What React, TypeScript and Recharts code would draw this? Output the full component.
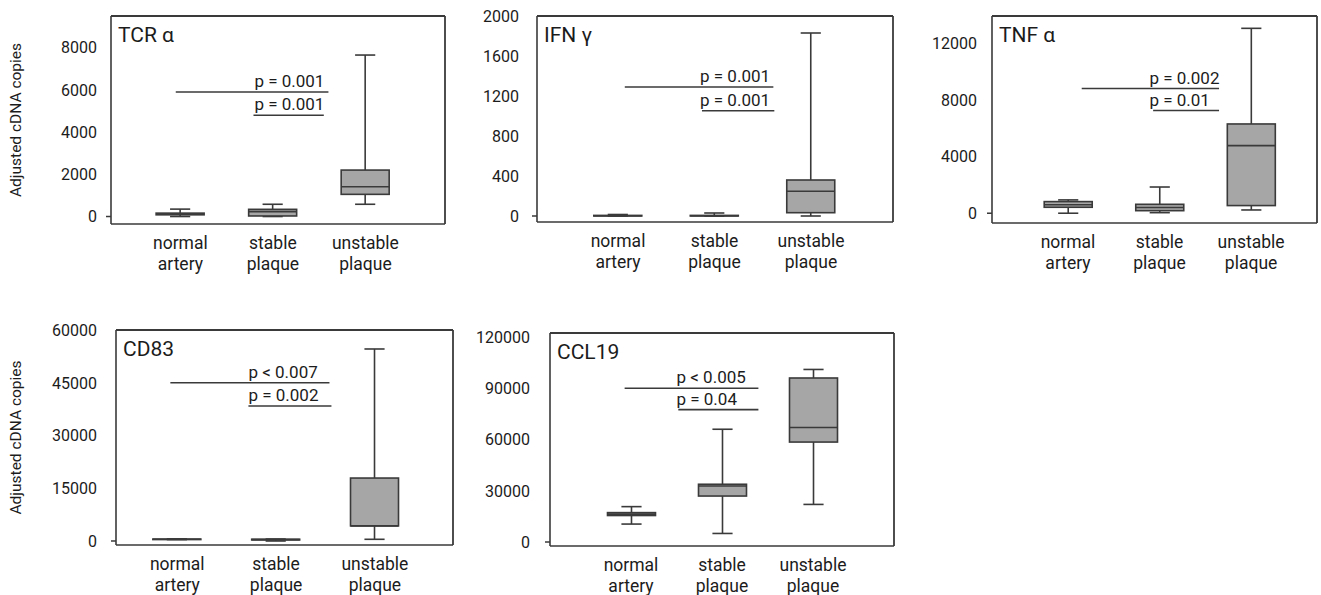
import React from 'react';
import { ComposedChart, Bar, XAxis, YAxis, ReferenceLine, ReferenceDot, Customized } from 'recharts';

const categories = ['normal artery', 'stable plaque', 'unstable plaque'];
const categoryPos = [1, 2, 3];

// five-number summaries per category: [min, q1, median, q3, max]
const tcrBoxes = [
  [0, 80, 120, 160, 350],
  [0, 25, 230, 340, 580],
  [580, 1050, 1410, 2200, 7650],
];
const ifnBoxes = [
  [0, 0, 3, 6, 15],
  [0, 0, 3, 6, 30],
  [0, 33, 247, 360, 1830],
];
const tnfBoxes = [
  [0, 420, 600, 820, 940],
  [40, 180, 400, 630, 1850],
  [230, 540, 4770, 6300, 13050],
];
const cd83Boxes = [
  [400, 450, 500, 550, 600],
  [0, 300, 400, 500, 550],
  [480, 4300, 4300, 17900, 54600],
];
const ccl19Boxes = [
  [10500, 15500, 16300, 17200, 20700],
  [5000, 26900, 32800, 33800, 66000],
  [22000, 58500, 67000, 96000, 101000],
];

const tcrTicks = [0, 2000, 4000, 6000, 8000];
const ifnTicks = [0, 400, 800, 1200, 1600, 2000];
const tnfTicks = [0, 4000, 8000, 12000];
const cd83Ticks = [0, 15000, 30000, 45000, 60000];
const ccl19Ticks = [0, 30000, 60000, 90000, 120000];

// significance bars: from/to on the category scale, y in copies
const tcrSig = [
  { label: 'p = 0.001', from: 0.95, to: 2.6, y: 5900, textX: 1.8 },
  { label: 'p = 0.001', from: 1.79, to: 2.55, y: 4800, textX: 1.8 },
];
const ifnSig = [
  { label: 'p = 0.001', from: 1.07, to: 2.61, y: 1290, textX: 1.85 },
  { label: 'p = 0.001', from: 1.87, to: 2.62, y: 1053, textX: 1.85 },
];
const tnfSig = [
  { label: 'p = 0.002', from: 1.15, to: 2.65, y: 8800, textX: 1.89 },
  { label: 'p = 0.01', from: 1.93, to: 2.65, y: 7250, textX: 1.89 },
];
const cd83Sig = [
  { label: 'p < 0.007', from: 0.93, to: 2.54, y: 45000, textX: 1.72 },
  { label: 'p = 0.002', from: 1.72, to: 2.56, y: 38400, textX: 1.72 },
];
const ccl19Sig = [
  { label: 'p < 0.005', from: 0.93, to: 2.4, y: 90000, textX: 1.5 },
  { label: 'p = 0.04', from: 1.52, to: 2.4, y: 77500, textX: 1.5 },
];

const FONT = 'Roboto, sans-serif';
const INK = '#1c1c1c';
const LINE = '#3a3a3a';
const FILL = '#a6a6a6';
const TOP_PAD = 12;
const X_AXIS_H = 60;
const BOX_W = 48;

type Sig = { label: string; from: number; to: number; y: number; textX: number };
type Panel = {
  title: string;
  boxes: number[][];
  ticks: number[];
  sig: Sig[];
  yDomain: [number, number];
  xDomain: [number, number];
  frame: { l: number; r: number; t: number; b: number };
  yLabel: boolean;
  tickGap: number;
};

const panels: Panel[] = [
  { title: 'TCR α', boxes: tcrBoxes, ticks: tcrTicks, sig: tcrSig, yDomain: [-355, 9500], xDomain: [0.25, 3.86], frame: { l: 111, r: 445, t: 16, b: 224 }, yLabel: true, tickGap: 14 },
  { title: 'IFN γ', boxes: ifnBoxes, ticks: ifnTicks, sig: ifnSig, yDomain: [-60, 2000], xDomain: [0.16, 3.85], frame: { l: 537, r: 893, t: 16, b: 222 }, yLabel: false, tickGap: 18 },
  { title: 'TNF α', boxes: tnfBoxes, ticks: tnfTicks, sig: tnfSig, yDomain: [-690, 13920], xDomain: [0.17, 3.72], frame: { l: 992, r: 1317, t: 16, b: 223 }, yLabel: false, tickGap: 15 },
  { title: 'CD83', boxes: cd83Boxes, ticks: cd83Ticks, sig: cd83Sig, yDomain: [-1140, 60000], xDomain: [0.38, 3.79], frame: { l: 116, r: 453, t: 330, b: 545 }, yLabel: true, tickGap: 19 },
  { title: 'CCL19', boxes: ccl19Boxes, ticks: ccl19Ticks, sig: ccl19Sig, yDomain: [-2340, 122340], xDomain: [0.11, 3.89], frame: { l: 550, r: 894, t: 333, b: 546 }, yLabel: false, tickGap: 20 },
];

const BoxShape = (props: any) => {
  const { x, y, width, height, payload } = props;
  const [mn, q1, med, q3, mx] = payload.stats;
  const top = Math.min(y, y + height);
  const bottom = Math.max(y, y + height);
  const k = (bottom - top) / (mx - mn);
  const py = (v: number) => bottom - (v - mn) * k;
  const cx = x + width / 2;
  const cap = width * 0.42;
  return (
    <g stroke={LINE} strokeWidth={1.6}>
      <line x1={cx} x2={cx} y1={py(mx)} y2={py(q3)} />
      <line x1={cx} x2={cx} y1={py(q1)} y2={py(mn)} />
      <line x1={cx - cap / 2} x2={cx + cap / 2} y1={py(mx)} y2={py(mx)} />
      <line x1={cx - cap / 2} x2={cx + cap / 2} y1={py(mn)} y2={py(mn)} />
      <rect x={x} y={py(q3)} width={width} height={Math.max(py(q1) - py(q3), 0.5)} fill={FILL} />
      <line x1={x} x2={x + width} y1={py(med)} y2={py(med)} />
    </g>
  );
};

const BoxPanel = ({ p }: { p: Panel }) => {
  const { l, r, t, b } = p.frame;
  const yw = p.yLabel ? l : 80;
  const width = r - l + yw + 4;
  const height = b - t + TOP_PAD + X_AXIS_H;
  const axisY = TOP_PAD + (b - t);
  const data = p.boxes.map((s, i) => ({
    pos: categoryPos[i],
    name: categories[i],
    stats: s,
    range: [s[0], s[4]],
  }));

  const YTick = (tp: any) => {
    const v = tp.payload.value;
    return (
      <g>
        <text x={yw - p.tickGap} y={tp.y} dy="0.36em" textAnchor="end" fontSize={16} fontFamily={FONT} fill={INK}>
          {v}
        </text>
        {v === 0 && <line x1={yw - 5} x2={yw} y1={tp.y} y2={tp.y} stroke={LINE} strokeWidth={1.5} />}
      </g>
    );
  };

  const XTick = (tp: any) => {
    const words = categories[tp.payload.value - 1].split(' ');
    return (
      <text x={tp.x} y={axisY + 25} textAnchor="middle" fontSize={17.5} fontFamily={FONT} fill={INK}>
        <tspan x={tp.x}>{words[0]}</tspan>
        <tspan x={tp.x} dy={21}>{words[1]}</tspan>
      </text>
    );
  };

  return (
    <div style={{ position: 'absolute', left: l - yw, top: t - TOP_PAD, width, height }}>
      <ComposedChart width={width} height={height} data={data} margin={{ top: TOP_PAD, right: 4, bottom: 0, left: 0 }}>
        <XAxis
          dataKey="pos"
          type="number"
          domain={p.xDomain}
          allowDataOverflow
          ticks={categoryPos}
          tick={<XTick />}
          tickLine={false}
          axisLine={{ stroke: LINE, strokeWidth: 1.6 }}
          height={X_AXIS_H}
          interval={0}
        />
        <YAxis
          type="number"
          domain={p.yDomain}
          allowDataOverflow
          ticks={p.ticks}
          tick={<YTick />}
          tickLine={false}
          axisLine={{ stroke: LINE, strokeWidth: 1.6 }}
          width={yw}
          interval={0}
        />
        <ReferenceLine y={p.yDomain[1]} stroke={LINE} strokeWidth={1.8} />
        <ReferenceLine x={p.xDomain[1]} stroke={LINE} strokeWidth={1.8} />
        {p.sig.map((s, i) => (
          <ReferenceLine
            key={'l' + i}
            segment={[{ x: s.from, y: s.y }, { x: s.to, y: s.y }]}
            stroke={LINE}
            strokeWidth={1.6}
          />
        ))}
        {p.sig.map((s, i) => (
          <ReferenceDot
            key={'t' + i}
            x={s.textX}
            y={s.y}
            r={0}
            shape={(dp: any) => (
              <text x={dp.cx} y={dp.cy - 5} fontSize={17} fontFamily={FONT} fill={INK}>
                {s.label}
              </text>
            )}
          />
        ))}
        <Bar dataKey="range" barSize={BOX_W} shape={<BoxShape />} isAnimationActive={false} />
        <Customized
          component={() => (
            <g>
              <text x={yw + 7} y={TOP_PAD + 26} fontSize={21} fontFamily={FONT} fill={INK}>
                {p.title}
              </text>
              {p.yLabel && (
                <text
                  transform={`translate(17, ${TOP_PAD + (b - t) / 2}) rotate(-90)`}
                  textAnchor="middle"
                  dominantBaseline="middle"
                  fontSize={15.5}
                  fontFamily={FONT}
                  fill={INK}
                >
                  Adjusted cDNA copies
                </text>
              )}
            </g>
          )}
        />
      </ComposedChart>
    </div>
  );
}

export default function App() {
  return (
    <div style={{ position: 'absolute', left: 0, top: 0, width: 1321, height: 595, background: '#fff' }}>
      {panels.map((p) => (
        <BoxPanel key={p.title} p={p} />
      ))}
    </div>
  );
}
